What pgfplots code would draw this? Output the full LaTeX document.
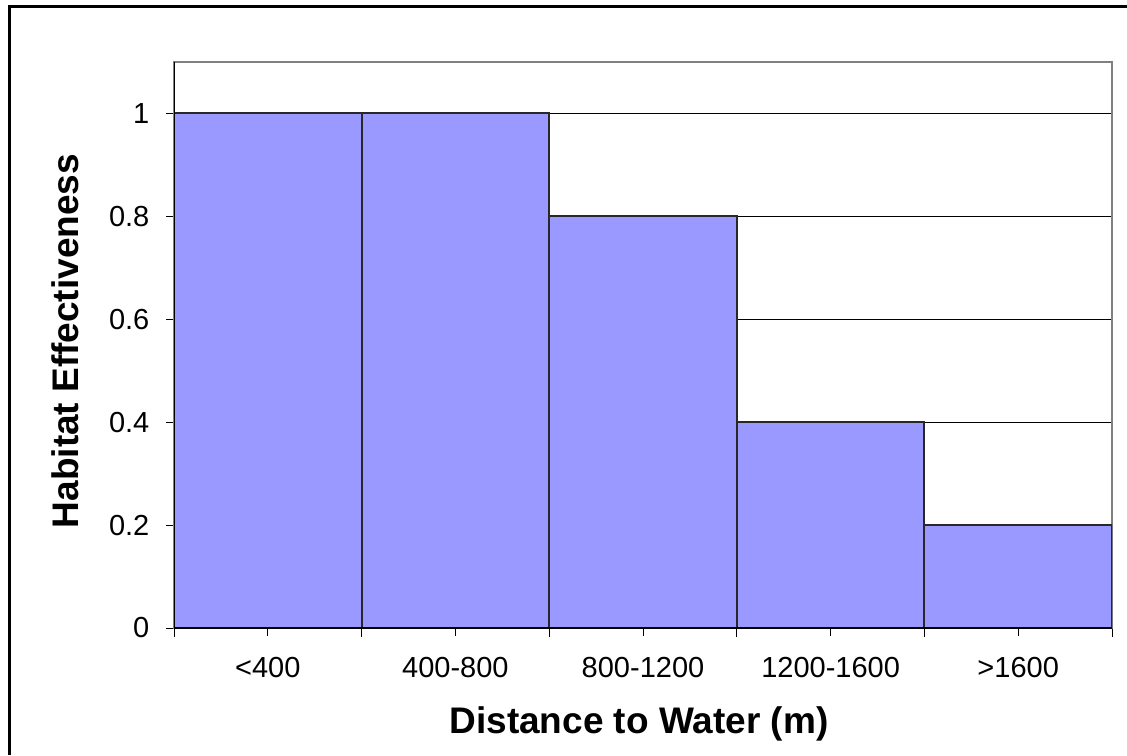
\documentclass[border=0pt]{standalone}
\usepackage{fontspec}
\setmainfont{Liberation Sans}
\usepackage{pgfplots}
\pgfplotsset{compat=1.18}
\definecolor{barfill}{RGB}{153,153,255}
\definecolor{baredge}{RGB}{40,40,40}
\definecolor{boxgray}{RGB}{128,128,128}
\begin{document}
\begin{tikzpicture}
\useasboundingbox (0,0) rectangle (563.5pt,377.5pt);
% outer frame (left and top edges)
\draw[black, line width=1.5pt] (4.8pt,0) -- (4.8pt,374pt) -- (563.5pt,374pt);
\begin{axis}[
  at={(87pt,63.5pt)}, anchor=south west,
  scale only axis, width=469pt, height=283pt,
  xmin=0, xmax=5, ymin=0, ymax=1.1,
  axis line style={boxgray, line width=0.6pt},
  tick pos=left, tick align=outside,
  xtick={0.5,1.5,2.5,3.5,4.5},
  xticklabels={{<400},{400-800},{800-1200},{1200-1600},{>1600}},
  minor xtick={0,1,2,3,4,5},
  ytick={0,0.2,0.4,0.6,0.8,1},
  major tick length=3.8pt, minor tick length=4.5pt,
  every tick/.style={black, line width=0.5pt},
  ymajorgrids,
  major grid style={black, line width=0.5pt},
  /pgf/number format/assume math mode=true,
  tick label style={font=\fontsize{14.5}{17}\selectfont},
  xticklabel style={anchor=base, yshift=-21pt},
  yticklabel style={anchor=east, xshift=-5pt},
  xlabel={Distance to Water (m)},
  ylabel={Habitat Effectiveness},
  label style={font=\fontsize{18.5}{22}\selectfont\bfseries},
  xlabel style={at={(axis description cs:0.4957,-0.1855)}, anchor=base},
  ylabel style={at={(axis description cs:-0.1157,0.507)}, anchor=center},
]
\addplot[ybar, bar width=1, fill=barfill, draw=baredge, line width=1pt]
  coordinates {(0.5,1) (1.5,1) (2.5,0.8) (3.5,0.4) (4.5,0.2)};
\draw[black, line width=0.7pt] (rel axis cs:0,1) -- (rel axis cs:0,0) -- (rel axis cs:1,0);
\end{axis}
\end{tikzpicture}
\end{document}
